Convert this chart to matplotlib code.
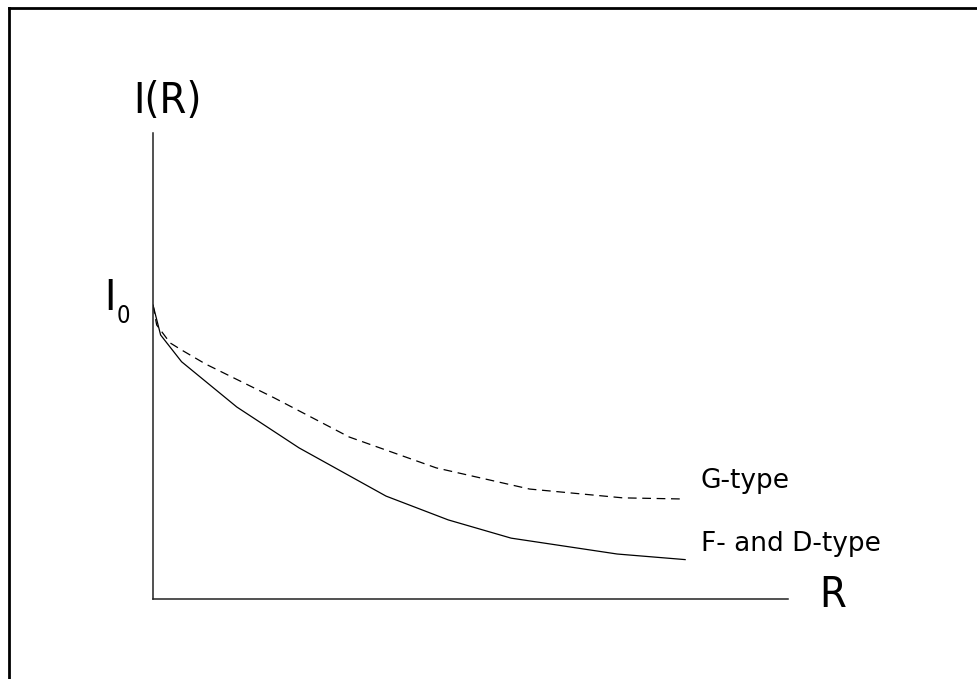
import matplotlib
matplotlib.use('Agg')
import matplotlib.pyplot as plt
from matplotlib.lines import Line2D

# Кривые (R в условных единицах, I в долях I0)
r_fd = [0.0, 0.12, 0.45, 1.32, 2.30, 3.67, 4.65, 5.64, 7.31, 8.38]
i_fd = [1.0, 0.898, 0.807, 0.653, 0.514, 0.350, 0.269, 0.207, 0.153, 0.134]

r_g = [0.0, 0.058, 0.27, 0.45, 0.83, 1.91, 3.09, 4.46, 5.93, 7.40, 8.38]
i_g = [1.0, 0.932, 0.871, 0.847, 0.799, 0.684, 0.551, 0.446, 0.374, 0.344, 0.340]

label_g = 'G-type'
label_fd = 'F- and D-type'

W, H = 977, 679
fig = plt.figure(figsize=(W / 100, H / 100), dpi=100)

def fx(px):
    return px / W

def fy(py):
    return 1 - py / H

big = ['DejaVu Sans', 'Liberation Sans']

# рамка: видны только верх и левый край
fig.add_artist(Line2D([fx(8.5), 1.0], [fy(7.5), fy(7.5)], color='black', lw=2.0,
                      transform=fig.transFigure))
fig.add_artist(Line2D([fx(8.5), fx(8.5)], [fy(7.5), 0.0], color='black', lw=2.0,
                      transform=fig.transFigure))

ax = fig.add_axes([fx(153), fy(599), fx(788) - fx(153), fy(133) - fy(599)])
ax.set_xlim(0, 10)
ax.set_ylim(0, 466 / 294)
ax.patch.set_alpha(0)
for s in ('top', 'right'):
    ax.spines[s].set_visible(False)
for s in ('left', 'bottom'):
    ax.spines[s].set_linewidth(1.1)
    ax.spines[s].set_color('#222222')
ax.set_xticks([])
ax.set_yticks([])

ax.plot(r_fd, i_fd, color='black', lw=0.9)
ax.plot(r_g, i_g, color='black', lw=0.9, dashes=(7, 4.5))

kw = dict(family=big, stretch='condensed', va='baseline', ha='left')
fig.text(fx(133), fy(113), 'I(R)', fontsize=31, **kw)
fig.text(fx(819), fy(607), 'R', fontsize=31, **kw)
fig.text(fx(104), fy(310), 'I', fontsize=31, **kw)
fig.text(fx(117), fy(323), '0', fontsize=17, **kw)

fig.text(fx(701), fy(488), label_g, fontsize=19, family=big, va='baseline', ha='left')
fig.text(fx(701), fy(551), label_fd, fontsize=19, family=big, va='baseline', ha='left')

fig.savefig('out.png', dpi=100)
